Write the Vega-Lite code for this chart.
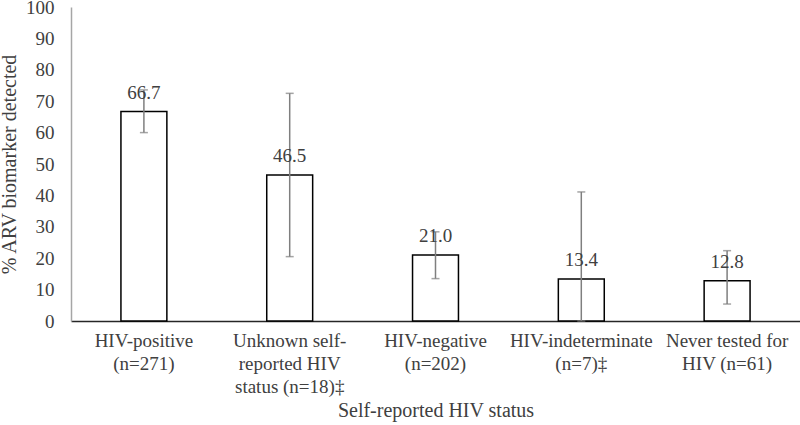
{
  "$schema": "https://vega.github.io/schema/vega-lite/v6.json",
  "autosize": "none",
  "width": 729,
  "height": 314,
  "padding": {"left": 71, "top": 7, "right": 0, "bottom": 104},
  "background": "white",
  "config": {
    "view": {"stroke": null},
    "font": "'Liberation Serif', 'DejaVu Serif', serif",
    "axisX": {
      "titleFont": "'Liberation Serif', 'DejaVu Serif', serif",
      "titleFontSize": 20,
      "titleFontWeight": "normal",
      "titleColor": "#404040",
      "titlePadding": 4,
      "labelAngle": 0,
      "labelFont": "'Liberation Serif', 'DejaVu Serif', serif",
      "labelFontSize": 19,
      "labelColor": "#404040",
      "labelLineHeight": 23,
      "labelPadding": 10,
      "ticks": false,
      "domainColor": "#262626",
      "domainWidth": 1.5
    },
    "axisY": {
      "titleFont": "'Liberation Serif', 'DejaVu Serif', serif",
      "titleFontSize": 20,
      "titleFontWeight": "normal",
      "titleColor": "#404040",
      "titlePadding": 6,
      "tickCount": 11,
      "labelOverlap": false,
      "grid": false,
      "ticks": false,
      "labelFont": "'Liberation Serif', 'DejaVu Serif', serif",
      "labelFontSize": 19,
      "labelColor": "#404040",
      "labelPadding": 17,
      "domainColor": "#a6a6a6",
      "domainWidth": 1.5
    }
  },
  "data": {
    "values": [
      {"status": "HIV-positive|(n=271)", "pct": 66.7, "lo": 60.0, "hi": 73.6},
      {"status": "Unknown self-|reported HIV|status (n=18)‡", "pct": 46.5, "lo": 20.5, "hi": 72.5},
      {"status": "HIV-negative|(n=202)", "pct": 21.0, "lo": 13.5, "hi": 28.4},
      {"status": "HIV-indeterminate|(n=7)‡", "pct": 13.4, "lo": 0, "hi": 41.1},
      {"status": "Never tested for|HIV (n=61)", "pct": 12.8, "lo": 5.4, "hi": 22.4}
    ]
  },
  "encoding": {
    "x": {
      "field": "status",
      "type": "nominal",
      "sort": null,
      "scale": {"padding": 0},
      "axis": {
        "title": "Self-reported HIV status",
        "labelExpr": "split(datum.label, '|')"
      }
    }
  },
  "layer": [
    {
      "mark": {"type": "bar", "fill": "white", "stroke": "#000000", "strokeWidth": 1.5, "width": {"band": 0.315}},
      "encoding": {
        "y": {
          "field": "pct",
          "type": "quantitative",
          "scale": {"domain": [0, 100]},
          "axis": {
            "title": "% ARV biomarker detected",
            "values": [0, 10, 20, 30, 40, 50, 60, 70, 80, 90, 100],
            "labelOverlap": false
          }
        }
      }
    },
    {
      "mark": {"type": "rule", "color": "#7f7f7f", "strokeWidth": 1.5},
      "encoding": {
        "y": {"field": "lo", "type": "quantitative"},
        "y2": {"field": "hi"}
      }
    },
    {
      "mark": {"type": "tick", "color": "#7f7f7f", "size": 8, "thickness": 1.5},
      "encoding": {"y": {"field": "lo", "type": "quantitative"}}
    },
    {
      "mark": {"type": "tick", "color": "#7f7f7f", "size": 8, "thickness": 1.5},
      "encoding": {"y": {"field": "hi", "type": "quantitative"}}
    },
    {
      "mark": {"type": "text", "font": "'Liberation Serif', 'DejaVu Serif', serif", "fontSize": 19, "color": "#404040", "baseline": "bottom", "dy": -9},
      "encoding": {
        "y": {"field": "pct", "type": "quantitative"},
        "text": {"field": "pct", "type": "quantitative", "format": ".1f"}
      }
    }
  ]
}
